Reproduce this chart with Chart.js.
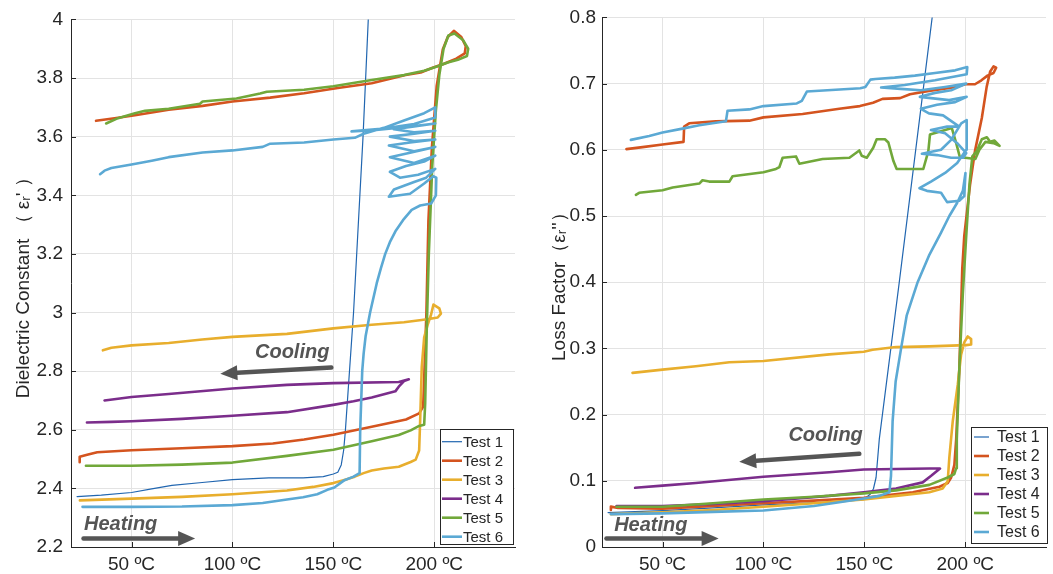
<!DOCTYPE html>
<html>
<head>
<meta charset="utf-8">
<script src="https://cdn.jsdelivr.net/npm/chart.js@4"></script>
<style>
  body { margin: 0; background: #fff; }
  .panel { position: absolute; top: 0; height: 574px; }
  #left { left: 0; width: 530px; }
  #right { left: 530px; width: 523px; }
</style>
</head>
<body>
<div class="panel" id="left"><canvas id="dcChart"></canvas></div>
<div class="panel" id="right"><canvas id="lfChart"></canvas></div>
<script>
// series names and look
let testNames = ['Test 1', 'Test 2', 'Test 3', 'Test 4', 'Test 5', 'Test 6'];
let testColors = ['#2166B0', '#D4541F', '#E8AE2D', '#7B2D8B', '#71A83A', '#5BA9D4'];
let testWidths = [1.2, 2.6, 2.6, 2.6, 2.6, 2.6];

// tick values
let tempTicks = [50, 100, 150, 200];
let dcTicks = [2.2, 2.4, 2.6, 2.8, 3, 3.2, 3.4, 3.6, 3.8, 4];
let lfTicks = [0, 0.1, 0.2, 0.3, 0.4, 0.5, 0.6, 0.7, 0.8];

// Dielectric constant, [temperature, value] in recording order (heating then cooling)
let dcTest1 = [[23,2.372],[35,2.377],[50,2.386],[60,2.398],[70,2.41],[85,2.42],[100,2.43],[118,2.436],[135,2.436],[145,2.44],[150,2.449],[152.2,2.455],[153.9,2.48],[155.1,2.53],[155.9,2.592],[160,3.0],[164.7,3.6],[167.3,4.0]];
let dcTest2 = [[24.3,2.489],[24.3,2.508],[28,2.515],[33,2.523],[50,2.53],[75,2.537],[100,2.544],[120,2.553],[135.5,2.567],[150,2.583],[169,2.61],[186,2.635],[192.5,2.656],[194.5,2.679],[195.2,2.815],[196.1,3.0],[197.1,3.313],[198.8,3.561],[201.2,3.773],[204.2,3.897],[206.7,3.94],[209.7,3.961],[213.4,3.94],[215.6,3.909],[215.1,3.884],[210.9,3.866],[204.2,3.847],[199.2,3.835],[193.3,3.819],[185.8,3.81],[169,3.782],[152.2,3.766],[135.5,3.748],[118.7,3.733],[100,3.72],[85.2,3.705],[68.4,3.692],[51.7,3.673],[41.6,3.663],[32.4,3.654]];
let dcTest3 = [[24.4,2.359],[50,2.365],[75,2.371],[100,2.38],[127,2.393],[140,2.405],[150,2.418],[155,2.428],[160.6,2.44],[165,2.452],[169,2.461],[175,2.468],[182.4,2.474],[188.3,2.49],[190.8,2.498],[192.5,2.529],[193,2.629],[193.8,2.815],[195,2.915],[196.6,2.955],[198.3,2.99],[199.6,3.027],[202.5,3.014],[203.3,2.996],[201.7,2.983],[196.6,2.977],[185,2.967],[169,2.958],[150,2.946],[127,2.927],[100,2.917],[85,2.908],[68.4,2.896],[50,2.888],[40,2.88],[35.8,2.871]];
let dcTest4 = [[27.9,2.625],[40,2.627],[50,2.629],[75,2.637],[100,2.648],[127,2.66],[150,2.685],[160,2.697],[169,2.71],[180.7,2.731],[182.4,2.747],[185,2.766],[187.4,2.772],[182.4,2.763],[150,2.759],[127,2.753],[100,2.741],[68.4,2.722],[50,2.712],[36.6,2.7]];
let dcTest5 = [[27.4,2.477],[50,2.477],[75,2.481],[100,2.488],[127,2.511],[150,2.532],[169,2.561],[182.4,2.582],[188.3,2.598],[192.5,2.613],[195,2.617],[195.5,2.691],[196.3,2.95],[197.3,3.2],[199,3.5],[200.8,3.69],[202.5,3.81],[204.6,3.9],[207,3.945],[210,3.952],[214.2,3.93],[216.8,3.9],[216.2,3.875],[211.7,3.862],[206.7,3.853],[201.7,3.84],[195,3.825],[185,3.81],[169,3.793],[160.6,3.784],[150,3.772],[135.5,3.76],[117,3.753],[113.7,3.747],[102,3.73],[85.2,3.72],[83.9,3.712],[68.4,3.695],[56.7,3.688],[51.7,3.68],[43.3,3.663],[37.4,3.645]];
let dcTest6 = [[25.7,2.337],[40,2.337],[50,2.337],[75,2.338],[100,2.343],[115,2.35],[127,2.362],[135,2.37],[142,2.38],[147,2.395],[150.5,2.403],[155.5,2.428],[160,2.44],[163,2.452],[163.3,2.6],[164.3,2.8],[165,2.86],[166,2.92],[168.2,3.0],[171.5,3.1],[173.5,3.15],[175.7,3.2],[178,3.24],[181,3.28],[184.5,3.315],[188.8,3.35],
  [193,3.365],[198.5,3.372],[200.8,3.40],[201,3.46],[199.5,3.465],[195,3.44],[188,3.405],[177.5,3.395],[180,3.42],[190,3.445],[196,3.46],[200.5,3.49],[192,3.47],[183,3.46],[178,3.48],[186,3.5],[195,3.515],[200.5,3.535],[190,3.51],[178,3.53],[188,3.545],[200.5,3.565],[190,3.55],[177.5,3.57],[188,3.58],[200.5,3.59],[190,3.585],[178,3.6],[190,3.61],[200.5,3.62],[190,3.615],[180,3.625],[190,3.635],[200.5,3.645],[185,3.632],[170,3.622],[159,3.618],[175,3.628],[190,3.643],[200.5,3.665],[200.5,3.7],[195,3.68],[185,3.655],[175,3.63],[165,3.61],
  [160.6,3.596],[150,3.59],[135.5,3.58],[118.7,3.576],[115,3.565],[100,3.553],[85.2,3.546],[68.4,3.53],[60,3.518],[50,3.505],[40,3.493],[36.6,3.484],[34.4,3.472]];

// Loss factor, [temperature, value]
let lfTest1 = [[23,0.052],[50,0.055],[75,0.059],[100,0.0635],[132.6,0.068],[149.7,0.0717],[153,0.08],[154.5,0.088],[155.8,0.105],[157.4,0.163],[167.3,0.4],[183.6,0.8]];
let lfTest2 = [[24.4,0.056],[24.4,0.061],[28,0.059],[50,0.058],[75,0.062],[100,0.0662],[125,0.07],[149.7,0.0745],[174,0.0828],[187.2,0.091],[191.3,0.0966],[193,0.105],[194.6,0.124],[195.5,0.163],[197.1,0.273],[198.5,0.42],[199.5,0.47],[202.4,0.548],[204.8,0.598],[208.2,0.648],[210.6,0.695],[212.3,0.718],[214,0.726],[215.3,0.724],[214,0.716],[211,0.712],[208,0.705],[204.8,0.699],[200,0.699],[194,0.694],[182,0.689],[172.6,0.684],[167.7,0.678],[159,0.677],[154.3,0.671],[147.8,0.666],[137.6,0.662],[119.4,0.654],[100,0.649],[93,0.644],[76.4,0.643],[63.2,0.64],[60.7,0.635],[60.4,0.612],[50,0.608],[40.1,0.604],[32.1,0.601]];
let lfTest3 = [[24.4,0.0497],[50,0.0524],[75,0.056],[100,0.0607],[125,0.066],[149.7,0.0717],[165.7,0.0772],[182.2,0.0828],[188.8,0.0883],[191.3,0.0993],[192.1,0.135],[193.8,0.19],[196.3,0.246],[197.9,0.29],[199.5,0.309],[201.2,0.318],[202.9,0.314],[202.9,0.306],[200.4,0.305],[182.2,0.303],[165.7,0.302],[154.1,0.298],[149.7,0.295],[132.6,0.291],[100,0.281],[83.1,0.279],[66.5,0.273],[50,0.268],[35.1,0.263]];
let lfTest4 = [[27.2,0.062],[50,0.062],[75,0.065],[100,0.069],[132.6,0.0772],[149.7,0.0828],[165.7,0.0883],[178.9,0.0976],[183.1,0.1076],[187.5,0.1186],[182.2,0.1186],[149.7,0.117],[132.6,0.113],[100,0.106],[66.5,0.0966],[50,0.0927],[36.4,0.0894]];
let lfTest5 = [[27.2,0.0607],[50,0.0607],[75,0.066],[100,0.0717],[125,0.076],[149.7,0.081],[165.7,0.0855],[182.2,0.0938],[191.3,0.105],[194.6,0.1103],[195.5,0.119],[195.8,0.163],[197.1,0.273],[198.8,0.383],[200.4,0.466],[202.1,0.549],[203.5,0.59],[205.7,0.598],[208.2,0.616],[210.7,0.619],[212.3,0.612],[214.5,0.614],[217,0.606],[214,0.61],[210,0.612],[207,0.6],[205,0.586],[200,0.588],[197.4,0.588],[195.5,0.61],[193.3,0.633],[188,0.628],[182.5,0.623],[181.7,0.598],[179.2,0.571],[166,0.571],[164.4,0.583],[161.9,0.611],[160.2,0.616],[156.1,0.616],[154.4,0.603],[151.2,0.588],[148.7,0.591],[147.5,0.599],[142.6,0.588],[129.3,0.586],[117.8,0.579],[116.1,0.59],[109.5,0.588],[107.9,0.574],[106.2,0.571],[100,0.566],[84.7,0.56],[83.1,0.552],[73.1,0.552],[69.8,0.554],[68.2,0.549],[55,0.543],[50,0.539],[38.4,0.535],[36.8,0.532]];
let lfTest6 = [[24.4,0.0497],[50,0.0508],[75,0.053],[100,0.0552],[125,0.062],[140.9,0.069],[149.7,0.0734],[157.4,0.0772],[162.4,0.0828],[163.2,0.1076],[164,0.19],[165.5,0.25],[168.2,0.3],[171,0.35],[176.4,0.4],[182,0.44],[188,0.475],[192.1,0.5],[196,0.52],[198.8,0.538],[200.1,0.565],
  [199.5,0.53],[197,0.523],[191,0.521],[188,0.535],[181,0.538],[177.3,0.542],[183,0.552],[190,0.565],[196,0.58],[200.5,0.6],[200.7,0.645],[198,0.64],[193,0.615],[188,0.6],[178.5,0.594],[186,0.592],[193,0.588],[199,0.588],[200.5,0.595],[196,0.61],[190,0.625],[183,0.63],[191,0.635],[197,0.635],[189,0.652],[182,0.655],[178,0.662],[186,0.668],[195,0.672],[200.7,0.68],[192,0.675],[183,0.678],[177.5,0.68],[185,0.686],[193,0.69],[200.5,0.7],[190,0.695],[178,0.69],[168,0.692],[158.3,0.694],[170,0.698],[185,0.705],[200.7,0.714],[201,0.725],[195,0.72],[185,0.716],[175,0.712],[165,0.709],[155.5,0.707],
  [153,0.706],[150.5,0.695],[148,0.693],[121.5,0.688],[119,0.674],[116.5,0.67],[100,0.666],[93,0.661],[82.2,0.659],[81.4,0.643],[68.2,0.637],[59.9,0.632],[50,0.626],[43.4,0.621],[34.3,0.615]];

// Heating / Cooling notes, in data units
let dcNotes = [
  { text: 'Cooling', at: [129.6, 2.865], from: [149, 2.812], to: [94, 2.791] },
  { text: 'Heating', at: [44.6, 2.278], from: [26.2, 2.229], to: [81.5, 2.229] },
];
let lfNotes = [
  { text: 'Cooling', at: [130.8, 0.1683], from: [147.5, 0.1407], to: [88, 0.1286] },
  { text: 'Heating', at: [44.2, 0.032], from: [22.2, 0.0127], to: [77.8, 0.0127] },
];

let fontFam = '"Liberation Sans", Arial, sans-serif';
let inkColor = '#262626';
let noteColor = '#555555';
Chart.defaults.font.family = fontFam;

function makeSets(series) {
  return series.map((pts, i) => ({
    label: testNames[i],
    data: pts.map(p => ({ x: p[0], y: p[1] })),
    showLine: true,
    borderColor: testColors[i],
    backgroundColor: testColors[i],
    borderWidth: testWidths[i],
    pointRadius: 0,
    tension: 0,
    borderJoinStyle: 'round',
    borderCapStyle: 'round',
    clip: 0,
    order: 6 - i,
  }));
}

// inward ticks, arrows with labels and the boxed legend
let decorPlugin = {
  id: 'decor',
  afterDatasetsDraw(chart, args, opts) {
    let ctx = chart.ctx;
    let xs = chart.scales.x;
    let ys = chart.scales.y;
    let area = chart.chartArea;
    ctx.save();

    ctx.strokeStyle = inkColor;
    ctx.lineWidth = 1;
    ctx.beginPath();
    xs.ticks.forEach(t => {
      let px = Math.round(xs.getPixelForValue(t.value)) + 0.5;
      ctx.moveTo(px, area.bottom);
      ctx.lineTo(px, area.bottom - 5);
    });
    ys.ticks.forEach(t => {
      let py = Math.round(ys.getPixelForValue(t.value)) + 0.5;
      ctx.moveTo(area.left, py);
      ctx.lineTo(area.left + 5, py);
    });
    ctx.stroke();

    opts.notes.forEach(n => {
      let x1 = xs.getPixelForValue(n.from[0]);
      let y1 = ys.getPixelForValue(n.from[1]);
      let x2 = xs.getPixelForValue(n.to[0]);
      let y2 = ys.getPixelForValue(n.to[1]);
      let ang = Math.atan2(y2 - y1, x2 - x1);
      let head = 17;
      let half = 7.5;
      let bx = x2 - head * Math.cos(ang);
      let by = y2 - head * Math.sin(ang);
      ctx.strokeStyle = noteColor;
      ctx.lineWidth = 4.5;
      ctx.lineCap = 'round';
      ctx.beginPath();
      ctx.moveTo(x1, y1);
      ctx.lineTo(bx, by);
      ctx.stroke();
      ctx.fillStyle = noteColor;
      ctx.beginPath();
      ctx.moveTo(x2, y2);
      ctx.lineTo(bx + half * Math.sin(ang), by - half * Math.cos(ang));
      ctx.lineTo(bx - half * Math.sin(ang), by + half * Math.cos(ang));
      ctx.closePath();
      ctx.fill();
      ctx.font = 'italic bold 20px ' + fontFam;
      ctx.textAlign = 'center';
      ctx.textBaseline = 'middle';
      ctx.fillText(n.text, xs.getPixelForValue(n.at[0]), ys.getPixelForValue(n.at[1]));
    });

    let L = opts.legend;
    let lx = Math.round(area.right - L.right - L.w);
    let ly = Math.round(area.bottom - L.bottom - L.h);
    ctx.fillStyle = '#ffffff';
    ctx.fillRect(lx, ly, L.w, L.h);
    ctx.strokeStyle = inkColor;
    ctx.lineWidth = 1;
    ctx.strokeRect(lx + 0.5, ly + 0.5, L.w, L.h);
    testNames.forEach((name, i) => {
      let cy = ly + L.first + i * 19;
      ctx.strokeStyle = testColors[i];
      ctx.lineWidth = testWidths[i];
      ctx.lineCap = 'butt';
      ctx.beginPath();
      ctx.moveTo(lx + L.lineX, cy);
      ctx.lineTo(lx + L.lineX + L.lineLen, cy);
      ctx.stroke();
      ctx.fillStyle = inkColor;
      ctx.font = L.size + 'px ' + fontFam;
      ctx.textAlign = 'left';
      ctx.textBaseline = 'middle';
      ctx.fillText(name, lx + L.textX, cy + 1);
    });
    ctx.restore();
  },
};

function makeChart(id, series, yTicks, yTitle, opt) {
  return new Chart(document.getElementById(id), {
    type: 'scatter',
    data: { datasets: makeSets(series) },
    plugins: [decorPlugin],
    options: {
      responsive: true,
      maintainAspectRatio: false,
      animation: false,
      layout: { padding: { top: opt.top, right: opt.right, bottom: 0, left: 0 } },
      plugins: {
        legend: { display: false },
        tooltip: { enabled: false },
        decor: { notes: opt.notes, legend: opt.legend },
      },
      scales: {
        x: {
          type: 'linear',
          min: 20,
          max: 240,
          afterBuildTicks: s => { s.ticks = tempTicks.map(v => ({ value: v })); },
          afterFit: s => { s.height = 27; },
          ticks: {
            callback: v => v + ' ºC',
            color: inkColor,
            font: { size: 19 },
            padding: 6,
            maxRotation: 0,
            autoSkip: false,
          },
          grid: { color: '#e3e3e3', drawTicks: false },
          border: { color: inkColor, width: 1 },
        },
        y: {
          type: 'linear',
          min: yTicks[0],
          max: yTicks[yTicks.length - 1],
          afterBuildTicks: s => { s.ticks = yTicks.map(v => ({ value: v })); },
          afterFit: s => { s.width = opt.axisW; },
          ticks: {
            callback: v => String(Math.round(v * 10) / 10),
            color: inkColor,
            font: { size: 19 },
            padding: opt.tickPad,
          },
          title: {
            display: true,
            text: yTitle,
            color: inkColor,
            font: { size: 19 },
            padding: { top: opt.titlePad, bottom: 0 },
          },
          grid: { color: '#e3e3e3', drawTicks: false },
          border: { color: inkColor, width: 1 },
        },
      },
    },
  });
}

makeChart('dcChart', [dcTest1, dcTest2, dcTest3, dcTest4, dcTest5, dcTest6], dcTicks,
  'Dielectric Constant （ εᵣ\' ）', {
    top: 17, right: 15, axisW: 71, tickPad: 8, titlePad: 12, notes: dcNotes,
    legend: { w: 73, h: 115, right: 2, bottom: 3, first: 12.7, lineX: 2, lineLen: 20, textX: 23, size: 15 },
  });

makeChart('lfChart', [lfTest1, lfTest2, lfTest3, lfTest4, lfTest5, lfTest6], lfTicks,
  'Loss Factor（εᵣ\'\'）', {
    top: 16, right: 7, axisW: 72, tickPad: 6, titlePad: 18, notes: lfNotes,
    legend: { w: 76, h: 116, right: -1, bottom: 4, first: 10, lineX: 3, lineLen: 15, textX: 26, size: 16 },
  });
</script>
</body>
</html>
